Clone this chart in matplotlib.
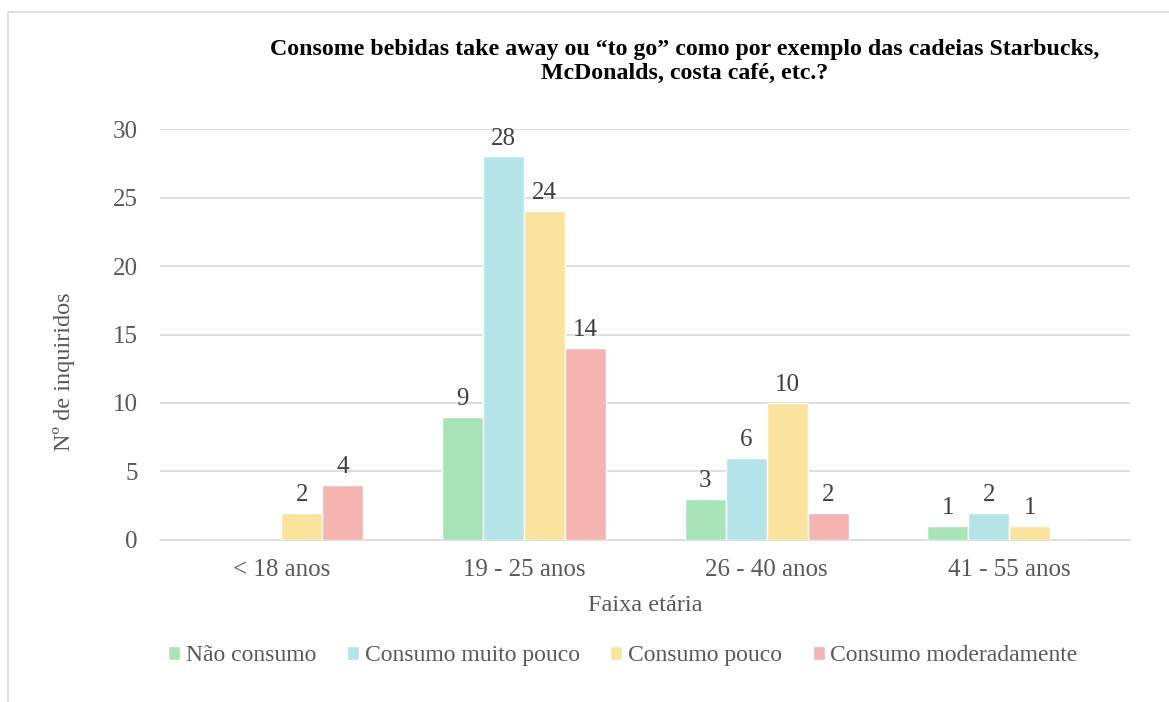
import numpy as np
import matplotlib.pyplot as plt
from matplotlib.patches import Rectangle

plt.rcParams['font.family'] = ['Liberation Serif', 'DejaVu Serif']

faixas = ['< 18 anos', '19 - 25 anos', '26 - 40 anos', '41 - 55 anos']
nao_consumo = [0, 9, 3, 1]
muito_pouco = [0, 28, 6, 2]
pouco = [2, 24, 10, 1]
moderadamente = [4, 14, 2, 0]

series = [
    ('Não consumo', nao_consumo, '#a8e4b8'),
    ('Consumo muito pouco', muito_pouco, '#b5e4e9'),
    ('Consumo pouco', pouco, '#fae49d'),
    ('Consumo moderadamente', moderadamente, '#f6b4b0'),
]

fig = plt.figure(figsize=(11.69, 7.02), dpi=100)
ax = fig.add_axes([0.137, 0.2308, 0.830, 0.5854])

# outer chart frame
fig.patches.append(Rectangle((8 / 1169, -0.05), 1.2, 1 - 12 / 702 + 0.05,
                             transform=fig.transFigure, fill=False,
                             edgecolor='#d9d9d9', lw=1.2))

x = np.arange(len(faixas))
w = 0.169
for i, (name, vals, col) in enumerate(series):
    pos = x + (i - 1.5) * w
    ax.bar(pos, vals, w, color=col, edgecolor='white', lw=1, label=name, zorder=3)
    for p, v in zip(pos, vals):
        if v > 0:
            ax.text(p, v + 0.5, str(v), ha='center', va='bottom',
                    fontsize=18, color='#404040')

ax.set_ylim(0, 30)
ax.set_xlim(-0.5, 3.5)
ax.set_yticks(range(0, 31, 5))
ax.set_xticks(x)
ax.set_xticklabels(faixas)
ax.yaxis.grid(True, color='#d9d9d9', lw=1.2, zorder=0)
for s in ['top', 'right', 'left']:
    ax.spines[s].set_visible(False)
ax.spines['bottom'].set_color('#d9d9d9')
ax.spines['bottom'].set_linewidth(1.2)
ax.tick_params(length=0, labelsize=18, colors='#595959', pad=14)
ax.tick_params(axis='y', pad=16)

ax.set_xlabel('Faixa etária', fontsize=17.5, color='#595959', labelpad=10)
ax.set_ylabel('Nº de inquiridos', fontsize=17.5, color='#595959')
ax.yaxis.set_label_coords(-0.088, 0.41)

fig.text(0.586, 0.912,
         'Consome bebidas take away ou “to go” como por exemplo das cadeias Starbucks,\n'
         'McDonalds, costa café, etc.?',
         ha='center', va='center', fontsize=17.2, fontweight='bold',
         color='black', linespacing=1.2)

ax.legend(loc='upper center', bbox_to_anchor=(0.477, -0.205), ncol=4,
          frameon=False, fontsize=17, handlelength=0.5, handleheight=0.5,
          handletextpad=0.25, columnspacing=1.3, labelcolor='#595959')

fig.savefig('out.png', dpi=100, facecolor='white')
